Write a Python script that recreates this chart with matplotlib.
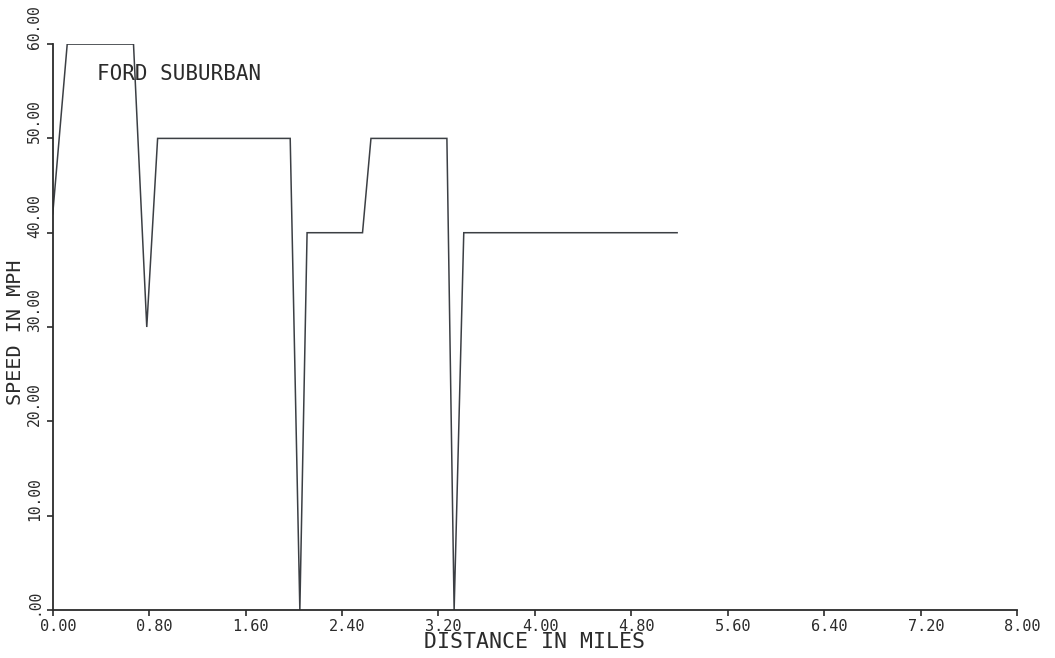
import matplotlib
matplotlib.use("Agg")
import matplotlib.pyplot as plt
from matplotlib.transforms import ScaledTranslation, blended_transform_factory

# Speed trace of the vehicle along the route
distance_mi = [0.00, 0.12, 0.67, 0.78, 0.87, 1.97, 2.05, 2.11, 2.57, 2.64, 3.27, 3.33, 3.41, 5.18]
speed_mph = [42, 60, 60, 30, 50, 50, 0, 40, 40, 50, 50, 0, 40, 40]

x_ticks = [0.00, 0.80, 1.60, 2.40, 3.20, 4.00, 4.80, 5.60, 6.40, 7.20, 8.00]
y_ticks = [0, 10, 20, 30, 40, 50, 60]
x_ticklabels = ["0.00", "0.80", "1.60", "2.40", "3.20", "4.00", "4.80", "5.60", "6.40", "7.20", "8.00"]
y_ticklabels = [".00", "10.00", "20.00", "30.00", "40.00", "50.00", "60.00"]

title_text = "FORD SUBURBAN"
x_title = "DISTANCE IN MILES"
y_title = "SPEED IN MPH"

ink = "#2b2b2b"
pen = "#3c3f44"
font = "DejaVu Sans Mono"

fig = plt.figure(figsize=(10.55, 6.58), dpi=100)
ax = fig.add_axes([0.050, 0.073, 0.914, 0.860])

ax.plot(distance_mi, speed_mph, color=pen, lw=1.1, solid_joinstyle="miter")

ax.set_xlim(0, 8)
ax.set_ylim(0, 60)
for side in ("top", "right"):
    ax.spines[side].set_visible(False)
for side in ("left", "bottom"):
    ax.spines[side].set_color(ink)
    ax.spines[side].set_linewidth(1.3)

ax.set_xticks(x_ticks)
ax.set_yticks(y_ticks)
ax.tick_params(axis="both", direction="out", length=4, width=1.2, color=ink,
               labelleft=False, labelbottom=False)

dpi = fig.dpi
# x tick labels: decimal point sits near the tick
xform = blended_transform_factory(ax.transData, ax.transAxes)
for v, lab in zip(x_ticks, x_ticklabels):
    ax.text(v, 0, lab, transform=xform + ScaledTranslation(-13 / dpi, -9 / dpi, fig.dpi_scale_trans),
            ha="left", va="top", fontsize=11, family=font, color=ink)

# y tick labels: rotated, starting just below the tick
yform = blended_transform_factory(ax.transAxes, ax.transData)
for v, lab in zip(y_ticks, y_ticklabels):
    ax.text(0, v, lab, transform=yform + ScaledTranslation(-11 / dpi, -5 / dpi, fig.dpi_scale_trans),
            ha="right", va="bottom", rotation=90, fontsize=10.5, family=font, color=ink)

ax.text(0.5, 0, x_title, transform=ax.transAxes + ScaledTranslation(0, -22 / dpi, fig.dpi_scale_trans),
        ha="center", va="top", fontsize=15.5, family=font, color=ink)
ax.text(0, 0.49, y_title, transform=ax.transAxes + ScaledTranslation(-28 / dpi, 0, fig.dpi_scale_trans),
        ha="right", va="center", rotation=90, fontsize=14.5, family=font, color=ink)
ax.text(0.37, 56.8, title_text, ha="left", va="center", fontsize=15, family=font, color=ink)

fig.savefig("out.png", dpi=100, facecolor="white")
